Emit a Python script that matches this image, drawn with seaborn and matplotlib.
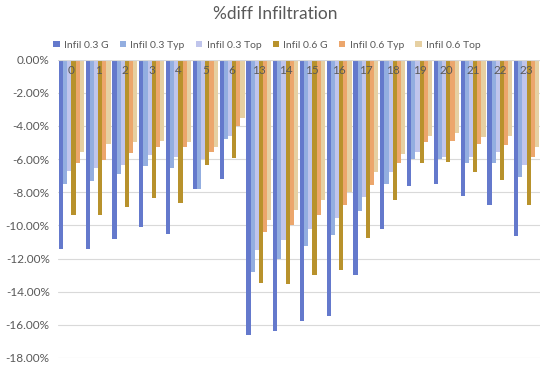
import pandas as pd
import numpy as np
import matplotlib
matplotlib.use("Agg")
import matplotlib.pyplot as plt
import seaborn as sns
from matplotlib.ticker import FuncFormatter
from matplotlib.patches import Patch

hours = ["0", "1", "2", "3", "4", "5", "6", "13", "14", "15", "16", "17",
         "18", "19", "20", "21", "22", "23"]
series = ["Infil 0.3 G", "Infil 0.3 Typ", "Infil 0.3 Top",
          "Infil 0.6 G", "Infil 0.6 Typ", "Infil 0.6 Top"]

# percent difference
g03 = [-11.4, -11.4, -10.8, -10.1, -10.5, -7.8, -7.2, -16.6, -16.4, -15.75,
       -15.45, -13.0, -10.25, -7.65, -7.5, -8.25, -8.8, -10.65]
typ03 = [-7.5, -7.3, -6.9, -6.4, -6.55, -7.8, -4.8, -12.8, -12.05, -11.25,
         -10.6, -9.15, -7.5, -6.0, -6.0, -6.25, -6.25, -7.1]
top03 = [-6.7, -6.55, -6.35, -5.75, -5.9, -6.0, -4.6, -11.5, -10.9, -10.2,
         -9.55, -8.3, -6.8, -5.55, -5.85, -5.9, -5.55, -6.35]
g06 = [-9.4, -9.35, -8.9, -8.35, -8.65, -6.35, -5.95, -13.45, -13.55, -13.0,
       -12.7, -10.75, -8.5, -6.25, -6.2, -6.8, -7.25, -8.75]
typ06 = [-6.25, -6.05, -5.65, -5.3, -5.3, -5.6, -4.0, -10.4, -9.95, -9.35,
         -8.8, -7.55, -6.25, -4.95, -4.9, -5.1, -5.15, -5.85]
top06 = [-5.55, -5.1, -5.0, -4.9, -5.0, -5.3, -3.55, -9.65, -9.05, -8.5,
         -8.0, -6.8, -5.7, -4.6, -4.45, -4.7, -4.6, -5.25]

colors = ["#6479cc", "#93aee0", "#c0c5ec", "#b8922c", "#eca66c", "#e6d0a2"]

df = pd.DataFrame({"hour": hours * 6,
                   "series": np.repeat(series, len(hours)),
                   "val": g03 + typ03 + top03 + g06 + typ06 + top06})

sns.set_style("white")
plt.rcParams["font.family"] = ["Lato", "DejaVu Sans"]
grey = "#595959"

fig = plt.figure(figsize=(5.5, 3.68), dpi=100)
ax = fig.add_axes([58 / 550, 10 / 368, 482 / 550, 298.5 / 368])

sns.barplot(data=df, x="hour", y="val", hue="series", order=hours,
            hue_order=series, palette=colors, width=0.93, saturation=1,
            edgecolor="none", ax=ax, legend=False)

ax.set_xlim(-0.5, len(hours) - 0.5)
ax.set_ylim(-18, 0)
ax.set_yticks(np.arange(-18, 0.1, 2))
ax.yaxis.set_major_formatter(FuncFormatter(lambda v, p: f"{v:.2f}%"))
ax.tick_params(axis="y", labelsize=8.5, labelcolor=grey, length=0, pad=6)
ax.set_xticks([])
ax.set_xlabel("")
ax.set_ylabel("")
ax.grid(axis="y", color="#d9d9d9", linewidth=0.8)
ax.set_axisbelow(True)
for s in ax.spines.values():
    s.set_visible(False)
ax.axhline(0, color="#d9d9d9", linewidth=0.8)

for i, h in enumerate(hours):
    ax.text(i, -0.65, h, ha="center", va="center", fontsize=8.5, color=grey)

handles = [Patch(facecolor=c, edgecolor="none") for c in colors]
fig.legend(handles, series, loc="center", bbox_to_anchor=(267 / 550, 1 - 45 / 368),
           ncol=6, frameon=False, fontsize=7.5, handlelength=0.6,
           handleheight=0.6, handletextpad=0.4, columnspacing=1.1,
           labelcolor=grey)

fig.text(0.5, 1 - 14 / 368, "%diff Infiltration", ha="center", va="center",
         fontsize=12.5, color=grey)

fig.savefig("out.png", dpi=100)
